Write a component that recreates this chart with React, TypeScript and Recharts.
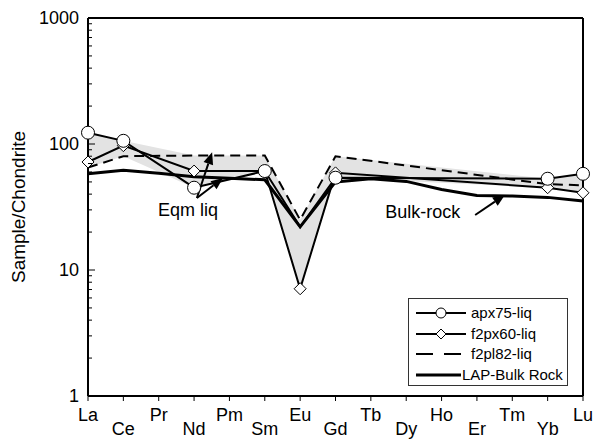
import React from 'react';
import {
    ComposedChart,
    Line,
    Area,
    XAxis,
    YAxis,
    ReferenceLine,
    ReferenceDot,
    Legend
} from 'recharts';

const elements = ['La', 'Ce', 'Pr', 'Nd', 'Pm', 'Sm', 'Eu', 'Gd', 'Tb', 'Dy', 'Ho', 'Er', 'Tm', 'Yb', 'Lu'];

const apx75 = [123, 106, null, 45, null, 61, 22, 54, null, null, null, null, null, 53, 58];
const f2px60 = [72, 97, null, 61, null, 61, 7.1, 59, null, null, null, null, null, 45, 41];
const f2pl82 = [65, 80, null, 81, null, 81, 25, 80, null, null, null, null, null, 48, 47];
const bulkRock = [58, 62, 58.5, 55, 53.5, 52, 22, 50, 53, 50.5, 43.6, 39, 38.6, 37.7, 35.3];

const seriesNames = ['apx75-liq', 'f2px60-liq', 'f2pl82-liq', 'LAP-Bulk Rock'];
const apxHiddenMarkers = ['Eu'];

const yMajorTicks = [1, 10, 100, 1000];
const yMinorTicks = [2, 3, 4, 5, 6, 7, 8, 9, 20, 30, 40, 50, 60, 70, 80, 90, 200, 300, 400, 500, 600, 700, 800, 900];

// annotation text and arrows, in data units (element index, value)
const noteTexts = [
    { text: 'Eqm liq', x: 2.83, y: 30 },
    { text: 'Bulk-rock', x: 9.47, y: 29 },
];
const noteArrows = [
    { x1: 3.08, y1: 37.3, x2: 3.51, y2: 86 },
    { x1: 3.08, y1: 37.3, x2: 3.82, y2: 53.7 },
    { x1: 10.95, y1: 27.3, x2: 11.79, y2: 39.4 },
];

const AXIS_X = 88;
const PLOT_BOTTOM = 396;
const FONT = '"Liberation Sans", Arial, sans-serif';

const chartData = elements.map((el, i) => {
    const liq = [apx75[i], f2px60[i], f2pl82[i]].filter(v => v != null) as number[];
    return {
        idx: i,
        el,
        apx75: apx75[i],
        f2px60: f2px60[i],
        f2pl82: f2pl82[i],
        bulk: bulkRock[i],
        env: liq.length ? [Math.min(...liq), Math.max(...liq)] : null,
    };
});

const YTick = (props: any) => {
    const { y, payload } = props;
    const major = yMajorTicks.includes(payload.value);
    return (
        <g>
            <line x1={AXIS_X} x2={AXIS_X + (major ? 7 : 4)} y1={y} y2={y} stroke="#000" strokeWidth={1} />
            {major && (
                <text x={AXIS_X - 9} y={y} dy={6} textAnchor="end" fontSize={18} fontFamily={FONT} fill="#000">
                    {payload.value}
                </text>
            )}
        </g>
    );
};

const XTick = (props: any) => {
    const { x, payload } = props;
    const i = payload.value;
    return (
        <text x={x} y={PLOT_BOTTOM + (i % 2 ? 39 : 25)} textAnchor="middle" fontSize={18} fontFamily={FONT} fill="#000">
            {elements[i]}
        </text>
    );
};

const CircleDot = (p: any) => {
    if (p.value == null || apxHiddenMarkers.includes(elements[p.index])) return <g key={p.key} />;
    return <circle key={p.key} cx={p.cx} cy={p.cy} r={6.5} fill="#fff" stroke="#000" strokeWidth={1} />;
};

const DiamondDot = (p: any) => {
    if (p.value == null) return <g key={p.key} />;
    const s = 6;
    return (
        <polygon
            key={p.key}
            points={`${p.cx},${p.cy - s} ${p.cx + s},${p.cy} ${p.cx},${p.cy + s} ${p.cx - s},${p.cy}`}
            fill="#fff"
            stroke="#000"
            strokeWidth={1}
        />
    );
};

const Arrow = (p: any) => {
    const { x1, y1, x2, y2 } = p;
    const ang = Math.atan2(y2 - y1, x2 - x1);
    const len = 12;
    const w = 5;
    const bx = x2 - len * Math.cos(ang);
    const by = y2 - len * Math.sin(ang);
    const nx = -Math.sin(ang) * w;
    const ny = Math.cos(ang) * w;
    return (
        <g>
            <line x1={x1} y1={y1} x2={bx} y2={by} stroke="#000" strokeWidth={2} />
            <polygon points={`${x2},${y2} ${bx + nx},${by + ny} ${bx - nx},${by - ny}`} fill="#000" />
        </g>
    );
};

const NoteText = (text: string) => (p: any) => (
    <text x={p.cx} y={p.cy} dy={6} textAnchor="middle" fontSize={18} fontFamily={FONT} fill="#000">
        {text}
    </text>
);

const LegendBox = () => {
    const row = (i: number, sample: React.ReactNode, textX: number) => (
        <div key={i} style={{ position: 'relative', height: 20.5 }}>
            <svg width={60} height={20} style={{ position: 'absolute', left: 0, top: 0 }}>
                {sample}
            </svg>
            <span style={{ position: 'absolute', left: textX, top: 1, fontSize: 15, fontFamily: FONT, whiteSpace: 'nowrap', lineHeight: '18px' }}>
                {seriesNames[i]}
            </span>
        </div>
    );
    return (
        <div style={{ border: '1px solid #333', background: '#fff', width: 158, height: 82, boxSizing: 'content-box', paddingTop: 4 }}>
            {row(0, <>
                <line x1={7} x2={57} y1={10} y2={10} stroke="#000" strokeWidth={2} />
                <circle cx={32} cy={10} r={5} fill="#fff" stroke="#000" />
            </>, 62)}
            {row(1, <>
                <line x1={7} x2={57} y1={10} y2={10} stroke="#000" strokeWidth={2} />
                <polygon points="32,5 37,10 32,15 27,10" fill="#fff" stroke="#000" />
            </>, 62)}
            {row(2, <line x1={7} x2={52} y1={10} y2={10} stroke="#000" strokeWidth={2} strokeDasharray="17 11" />, 62)}
            {row(3, <line x1={7} x2={52} y1={10} y2={10} stroke="#000" strokeWidth={3} />, 53)}
        </div>
    );
};

export default function App() {
    return (
        <div>
            <style>{`body { margin: 0; }`}</style>
            <ComposedChart
                width={605}
                height={446}
                data={chartData}
                margin={{ top: 18, right: 22, bottom: 20, left: 0 }}
            >
                <XAxis
                    type="number"
                    dataKey="idx"
                    domain={[0, 14]}
                    ticks={elements.map((_, i) => i)}
                    interval={0}
                    height={30}
                    tick={<XTick />}
                    tickSize={5}
                    tickLine={{ stroke: '#000', strokeWidth: 1 }}
                    axisLine={{ stroke: '#000', strokeWidth: 2 }}
                />
                <YAxis
                    scale="log"
                    domain={[1, 1000]}
                    allowDataOverflow
                    ticks={[...yMajorTicks, ...yMinorTicks].sort((a, b) => a - b)}
                    interval={0}
                    width={88}
                    tick={<YTick />}
                    tickLine={false}
                    axisLine={{ stroke: '#000', strokeWidth: 2 }}
                    label={{
                        value: 'Sample/Chondrite',
                        angle: -90,
                        position: 'insideLeft',
                        offset: 18,
                        fill: '#000',
                        style: { textAnchor: 'middle', fontSize: 19, fontFamily: FONT, fill: '#000' },
                    }}
                />
                <ReferenceLine y={1000} stroke="#000" strokeWidth={2} />
                <ReferenceLine x={14} stroke="#000" strokeWidth={2} />
                <Area
                    dataKey={(d: any) => d.env}
                    fill="#e3e3e3"
                    fillOpacity={1}
                    stroke="none"
                    connectNulls
                    isAnimationActive={false}
                    legendType="none"
                />
                <Line dataKey="bulk" stroke="#000" strokeWidth={3} dot={false} isAnimationActive={false} />
                <Line dataKey="f2pl82" stroke="#000" strokeWidth={2} strokeDasharray="10 6" dot={false} connectNulls isAnimationActive={false} />
                <Line dataKey="f2px60" stroke="#000" strokeWidth={2} dot={DiamondDot} connectNulls isAnimationActive={false} />
                <Line dataKey="apx75" stroke="#000" strokeWidth={2} dot={CircleDot} connectNulls isAnimationActive={false} />
                {noteArrows.map((a, i) => (
                    <ReferenceLine
                        key={'a' + i}
                        segment={[{ x: a.x1, y: a.y1 }, { x: a.x2, y: a.y2 }]}
                        shape={Arrow}
                    />
                ))}
                {noteTexts.map((n, i) => (
                    <ReferenceDot key={'t' + i} x={n.x} y={n.y} r={0} shape={NoteText(n.text)} />
                ))}
                <Legend
                    layout="vertical"
                    align="center"
                    verticalAlign="middle"
                    wrapperStyle={{ left: 408, top: 298, width: 160 }}
                    content={<LegendBox />}
                />
            </ComposedChart>
        </div>
    );
}
